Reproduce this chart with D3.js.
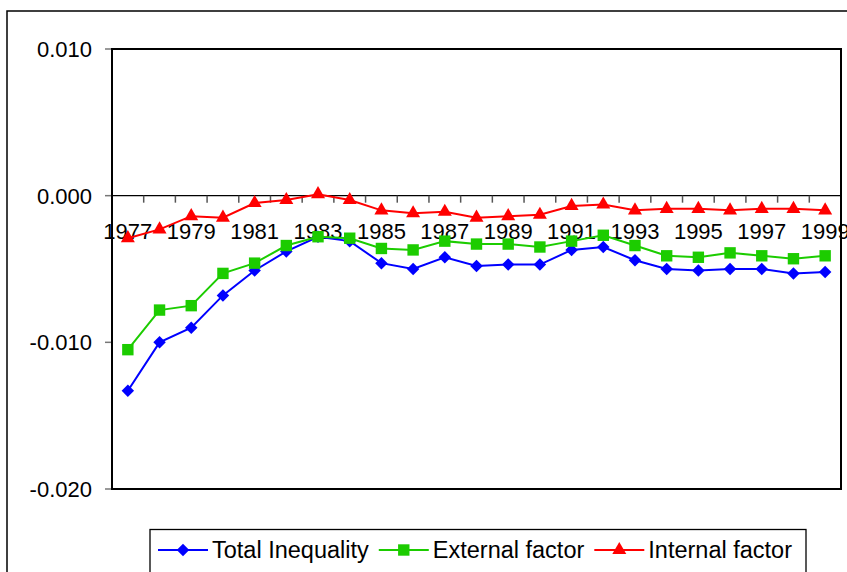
<!DOCTYPE html>
<html>
<head>
<meta charset="utf-8">
<script src="https://cdn.jsdelivr.net/npm/d3@7"></script>
<style>
  body { margin: 0; background: #fff; }
  text { font-family: "Liberation Sans", Arial, sans-serif; fill: #000; }
</style>
</head>
<body>
<div id="chart"></div>
<script>
// data
var years = ["1977","1978","1979","1980","1981","1982","1983","1984","1985","1986","1987","1988",
             "1989","1990","1991","1992","1993","1994","1995","1996","1997","1998","1999"];
var totalInequality = [-0.0133,-0.0100,-0.0090,-0.0068,-0.0051,-0.0038,-0.0028,-0.0031,-0.0046,-0.0050,-0.0042,-0.0048,
                       -0.0047,-0.0047,-0.0037,-0.0035,-0.0044,-0.0050,-0.0051,-0.0050,-0.0050,-0.0053,-0.0052];
var externalFactor = [-0.0105,-0.0078,-0.0075,-0.0053,-0.0046,-0.0034,-0.0028,-0.0029,-0.0036,-0.0037,-0.0031,-0.0033,
                      -0.0033,-0.0035,-0.0031,-0.0027,-0.0034,-0.0041,-0.0042,-0.0039,-0.0041,-0.0043,-0.0041];
var internalFactor = [-0.0029,-0.0023,-0.0014,-0.0015,-0.0005,-0.0003,0.0001,-0.0003,-0.0010,-0.0012,-0.0011,-0.0015,
                      -0.0014,-0.0013,-0.0007,-0.0006,-0.0010,-0.0009,-0.0009,-0.0010,-0.0009,-0.0009,-0.0010];
var yTicks = [-0.020, -0.010, 0.000, 0.010];
var xLabels = ["1977","1979","1981","1983","1985","1987","1989","1991","1993","1995","1997","1999"];
var seriesNames = ["Total Inequality", "External factor", "Internal factor"];

var width = 847, height = 572;
var plot = { left: 112, top: 49, right: 841, bottom: 489 };

var svg = d3.select("#chart").append("svg")
    .attr("width", width)
    .attr("height", height);

var xScale = d3.scaleBand().domain(years).range([plot.left, plot.right]);
var yScale = d3.scaleLinear().domain([-0.02, 0.01]).range([plot.bottom, plot.top]);

// outer chart frame (runs off the right and bottom of the window)
svg.append("rect")
    .attr("x", 7).attr("y", 11)
    .attr("width", 900).attr("height", 600)
    .attr("fill", "none")
    .attr("stroke", "#000")
    .attr("stroke-width", 1.5);

// y ticks and labels
svg.selectAll(".ytick").data(yTicks).enter().append("line")
    .attr("x1", plot.left - 7).attr("x2", plot.left)
    .attr("y1", function(d) { return yScale(d); })
    .attr("y2", function(d) { return yScale(d); })
    .attr("stroke", "#777").attr("stroke-width", 1.5);

svg.selectAll(".ylab").data(yTicks).enter().append("text")
    .attr("x", 92)
    .attr("y", function(d) { return yScale(d) + 8; })
    .attr("text-anchor", "end")
    .attr("font-size", 22)
    .text(function(d) { return d.toFixed(3); });

// plot area frame
svg.append("rect")
    .attr("x", plot.left).attr("y", plot.top)
    .attr("width", plot.right - plot.left).attr("height", plot.bottom - plot.top)
    .attr("fill", "none")
    .attr("stroke", "#000")
    .attr("stroke-width", 2);

// category axis on the zero line
var y0 = yScale(0);
svg.append("line")
    .attr("x1", plot.left).attr("x2", plot.right)
    .attr("y1", y0).attr("y2", y0)
    .attr("stroke", "#000").attr("stroke-width", 1.3);

svg.selectAll(".xtick").data(years.slice(1)).enter().append("line")
    .attr("x1", function(d) { return xScale(d); })
    .attr("x2", function(d) { return xScale(d); })
    .attr("y1", y0).attr("y2", y0 + 7)
    .attr("stroke", "#555").attr("stroke-width", 1.5);

svg.selectAll(".xlab").data(xLabels).enter().append("text")
    .attr("x", function(d) { return xScale(d) + xScale.bandwidth() / 2; })
    .attr("y", y0 + 43)
    .attr("text-anchor", "middle")
    .attr("font-size", 22)
    .text(function(d) { return d; });

// series
var series = [
    { name: seriesNames[0], values: totalInequality, color: "#0000ff", symbol: "diamond" },
    { name: seriesNames[1], values: externalFactor,  color: "#1ccc00", symbol: "square" },
    { name: seriesNames[2], values: internalFactor,  color: "#ff0000", symbol: "triangle" }
];

function marker(sel, type, color) {
    if (type === "diamond") {
        sel.append("path")
            .attr("d", d3.symbol(d3.symbolSquare, 78)())
            .attr("transform", "rotate(45)")
            .attr("fill", color);
    } else if (type === "square") {
        sel.append("path")
            .attr("d", d3.symbol(d3.symbolSquare, 130)())
            .attr("fill", color);
    } else {
        sel.append("path")
            .attr("d", d3.symbol(d3.symbolTriangle, 85)())
            .attr("fill", color);
    }
}

var line = d3.line()
    .x(function(d, i) { return xScale(years[i]) + xScale.bandwidth() / 2; })
    .y(function(d) { return yScale(d); });

series.forEach(function(s) {
    svg.append("path")
        .attr("d", line(s.values))
        .attr("fill", "none")
        .attr("stroke", s.color)
        .attr("stroke-width", 2);

    svg.append("g").selectAll("g").data(s.values).enter().append("g")
        .attr("transform", function(d, i) {
            return "translate(" + (xScale(years[i]) + xScale.bandwidth() / 2) + "," + yScale(d) + ")";
        })
        .each(function() { marker(d3.select(this), s.symbol, s.color); });
});

// legend
var legend = svg.append("g");
legend.append("rect")
    .attr("x", 150).attr("y", 529.5)
    .attr("width", 656).attr("height", 80)
    .attr("fill", "#fff")
    .attr("stroke", "#000")
    .attr("stroke-width", 1.3);

var lx = 158, ly = 550;
series.forEach(function(s) {
    legend.append("line")
        .attr("x1", lx).attr("x2", lx + 50)
        .attr("y1", ly).attr("y2", ly)
        .attr("stroke", s.color).attr("stroke-width", 2);
    var m = legend.append("g").attr("transform", "translate(" + (lx + 25) + "," + ly + ")");
    marker(m, s.symbol, s.color);
    var t = legend.append("text")
        .attr("x", lx + 54)
        .attr("y", ly + 8)
        .attr("font-size", 23.5)
        .text(s.name);
    lx = lx + 54 + t.node().getComputedTextLength() + 10;
});
</script>
</body>
</html>
